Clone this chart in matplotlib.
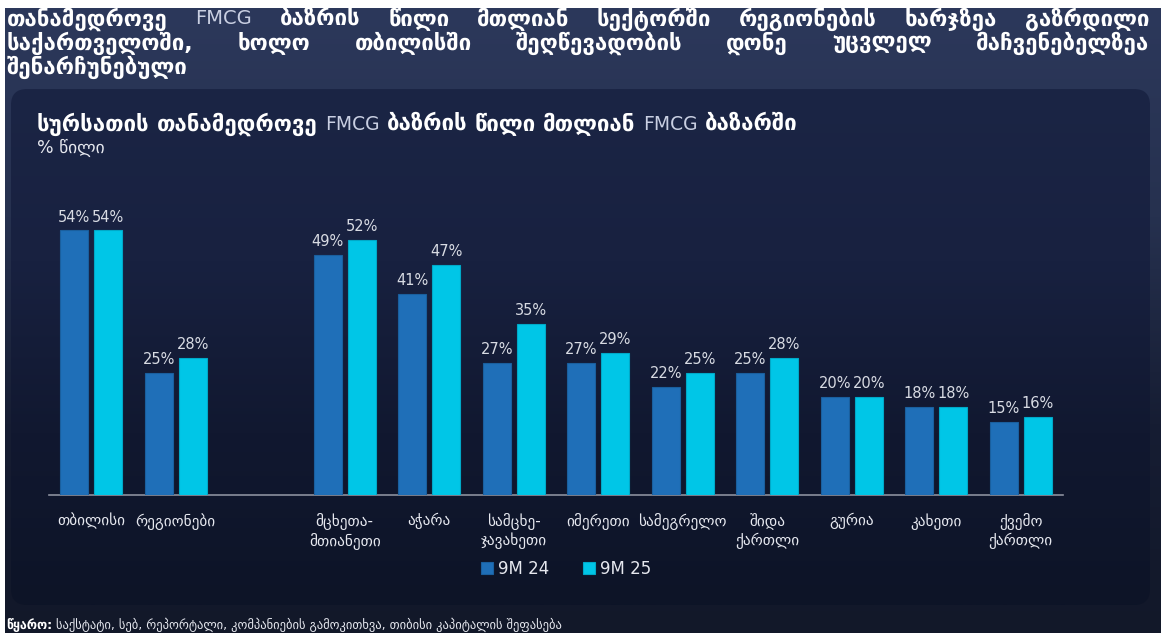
import numpy as np
import matplotlib
matplotlib.use("Agg")
import matplotlib.pyplot as plt
from matplotlib.patches import FancyBboxPatch
from matplotlib.colors import LinearSegmentedColormap

# data
categories = ["თბილისი", "რეგიონები", "მცხეთა-\nმთიანეთი", "აჭარა", "სამცხე-\nჯავახეთი",
              "იმერეთი", "სამეგრელო", "შიდა\nქართლი", "გურია", "კახეთი", "ქვემო\nქართლი"]
values_9m24 = [54, 25, 49, 41, 27, 27, 22, 25, 20, 18, 15]
values_9m25 = [54, 28, 52, 47, 35, 29, 25, 28, 20, 18, 16]
series_labels = ["9M 24", "9M 25"]

title_lines = [
    "თანამედროვე FMCG ბაზრის წილი მთლიან სექტორში რეგიონების ხარჯზეა გაზრდილი",
    "საქართველოში, ხოლო თბილისში შეღწევადობის დონე უცვლელ მაჩვენებელზეა",
    "შენარჩუნებული",
]
chart_title = "სურსათის თანამედროვე FMCG ბაზრის წილი მთლიან FMCG ბაზარში"
unit_label = "% წილი"
source_head = "წყარო:"
source_text = "საქსტატი, სებ, რეპორტალი, კომპანიების გამოკითხვა, თიბისი კაპიტალის შეფასება"

plt.rcParams["font.family"] = ["DejaVu Sans"]

W, H = 1161, 633
fig = plt.figure(figsize=(W / 100, H / 100), dpi=100)
fig.patch.set_facecolor("white")

# background layer in pixel coordinates
bg = fig.add_axes([0, 0, 1, 1])
bg.set_xlim(0, W)
bg.set_ylim(H, 0)
bg.axis("off")

grad = LinearSegmentedColormap.from_list("bg", ["#2c385b", "#26314f", "#161d33", "#121829"])
g = np.linspace(0, 1, 256).reshape(-1, 1)
bg.imshow(g, cmap=grad, extent=(5, W, H, 8), aspect="auto", zorder=0)

panel = FancyBboxPatch((11, 89), 1139, 516, boxstyle="round,pad=0,rounding_size=16",
                       facecolor="none", edgecolor="none", zorder=1)
bg.add_patch(panel)
pgrad = LinearSegmentedColormap.from_list("panel", ["#1b2545", "#182140", "#111830", "#0d1427"])
im = bg.imshow(g, cmap=pgrad, extent=(11, 1150, 605, 89), aspect="auto", zorder=1)
im.set_clip_path(panel)

renderer = fig.canvas.get_renderer()


def place_words(words, x0, y, width=None):
    # words: list of (text, size, style)
    arts = []
    for w, size, st in words:
        arts.append(bg.text(0, y, w, fontsize=size, va="center", ha="left", zorder=5, **st))
    widths = [t.get_window_extent(renderer).width for t in arts]
    gap = 0.33 * words[0][1] * 100 / 72
    if width is not None and len(arts) > 1:
        gap = max(gap, (width - sum(widths)) / (len(arts) - 1))
    x = x0
    for t, wd in zip(arts, widths):
        t.set_x(x)
        x += wd + gap


bold_white = dict(color="white", fontweight="bold")
light_fmcg = dict(color="#c9cfe2", fontweight="normal")


def styled(text, size, fmcg_size):
    return [(w, fmcg_size, light_fmcg) if w == "FMCG" else (w, size, bold_white)
            for w in text.split()]


for i, line in enumerate(title_lines):
    width = 1142 if i < len(title_lines) - 1 else None
    place_words(styled(line, 16, 14), 7, 19 + i * 24, width)

place_words(styled(chart_title, 16, 13.5), 37, 124)
bg.text(37, 148, unit_label, fontsize=12.5, color="#e6e8ef", va="center", ha="left", zorder=5)

t = bg.text(6, 625, source_head, fontsize=9, color="white", fontweight="bold",
            va="center", ha="left", zorder=5)
wd = t.get_window_extent(renderer).width
bg.text(6 + wd + 4, 625, source_text, fontsize=9, color="#e6e8ef",
        va="center", ha="left", zorder=5)

# chart
ax = fig.add_axes([49 / W, 1 - 495 / H, (1063 - 49) / W, (495 - 201) / H])
ax.set_facecolor("none")
x = np.arange(len(categories), dtype=float)
x[2:] += 1
bw = 0.33
c1, c2 = "#1f6fb8", "#00c6e7"
b1 = ax.bar(x - 0.2, values_9m24, bw, color=c1, edgecolor="#1a5f9e", linewidth=0.8, zorder=3,
            label=series_labels[0])
b2 = ax.bar(x + 0.2, values_9m25, bw, color=c2, edgecolor="#00a9c8", linewidth=0.8, zorder=3,
            label=series_labels[1])
for bars in (b1, b2):
    for r in bars:
        ax.text(r.get_x() + r.get_width() / 2, r.get_height() + 1.2, f"{r.get_height():.0f}%",
                ha="center", va="bottom", fontsize=10.5, color="#d8dbe3")

ax.set_xlim(-0.5, x[-1] + 0.5)
ax.set_ylim(0, 60)
ax.set_yticks([])
ax.set_xticks(x)
ax.set_xticklabels(categories, fontsize=11, color="#e6e8ef", linespacing=1.2, va="top")
ax.tick_params(axis="x", length=0, pad=13)
for s in ["top", "right", "left"]:
    ax.spines[s].set_visible(False)
ax.spines["bottom"].set_color("#8b909e")
ax.spines["bottom"].set_linewidth(1.2)

leg = ax.legend(loc="center", bbox_to_anchor=(0.51, -0.25), ncol=2, frameon=False,
                fontsize=12, labelcolor="#e6e8ef", handlelength=0.75, handleheight=0.75,
                handletextpad=0.3, columnspacing=2.0)

fig.savefig("out.png", dpi=100, facecolor=fig.get_facecolor())
